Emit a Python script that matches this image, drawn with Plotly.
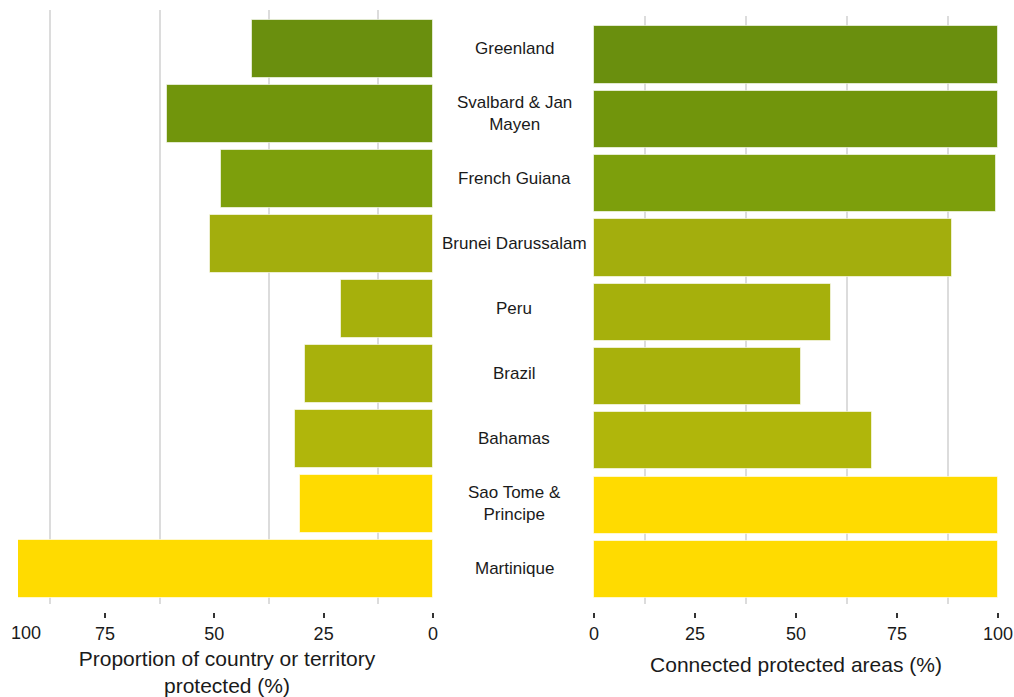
import plotly.graph_objects as go

countries = ["Greenland", "Svalbard & Jan Mayen", "French Guiana", "Brunei Darussalam",
             "Peru", "Brazil", "Bahamas", "Sao Tome & Principe", "Martinique"]
country_labels = ["Greenland", "Svalbard & Jan<br>Mayen", "French Guiana", "Brunei Darussalam",
                  "Peru", "Brazil", "Bahamas", "Sao Tome &<br>Principe", "Martinique"]
protected_pct = [41.4, 60.8, 48.5, 51.0, 21.0, 29.3, 31.5, 30.4, 100.0]
connected_pct = [100.0, 100.0, 99.5, 88.6, 58.7, 51.2, 68.8, 100.0, 100.0]
bar_colours = ["#6a8f0e", "#71950c", "#7d9f0c", "#a3ae0d", "#a6b00c",
               "#a8b10c", "#b0b60b", "#ffdb00", "#ffdb00"]
tick_values = [0, 25, 50, 75, 100]
tick_labels = ["0", "25", "50", "75", "100"]
minor_grid_values = [12.5, 37.5, 62.5, 87.5]

W, H = 1014, 697
FONT = "Liberation Sans, Arial, Helvetica, sans-serif"
TXT = "#1a1a1a"

def px(x):
    return x / W

def py(y):
    return 1 - y / H

fig = go.Figure()
fig.add_trace(go.Bar(
    x=protected_pct, y=countries, orientation="h", width=0.89,
    marker=dict(color=bar_colours, line=dict(color="rgba(255,255,255,0.6)", width=1)),
    xaxis="x", yaxis="y", showlegend=False, hoverinfo="x+y"))
fig.add_trace(go.Bar(
    x=connected_pct, y=countries, orientation="h", width=0.89,
    marker=dict(color=bar_colours, line=dict(color="rgba(255,255,255,0.6)", width=1)),
    xaxis="x2", yaxis="y2", showlegend=False, hoverinfo="x+y"))

common_x = dict(
    anchor="free", position=py(612), automargin=False,
    tickmode="array", tickvals=tick_values, ticktext=tick_labels,
    ticks="outside", ticklen=5, tickwidth=2, tickcolor="#333333",
    showgrid=False, zeroline=False, showline=False,
    minor=dict(tickmode="array", tickvals=minor_grid_values, showgrid=True,
               gridcolor="#dcdcdc", gridwidth=1.6, ticks=""),
    tickfont=dict(size=18, color=TXT, family=FONT),
    title_font=dict(size=21, color=TXT, family=FONT),
    title_standoff=14,
)

fig.update_layout(
    width=W, height=H, autosize=False,
    margin=dict(l=0, r=0, t=0, b=0, autoexpand=False),
    paper_bgcolor="white", plot_bgcolor="white",
    bargap=0,
    xaxis=dict(common_x, domain=[px(18), px(436)], range=[94.88, -0.69],
               title_text="Proportion of country or territory<br>protected (%)"),
    yaxis=dict(domain=[py(604), py(10)], type="category", categoryorder="array",
               categoryarray=countries, range=[8.54, -0.6], visible=False,
               automargin=False),
    xaxis2=dict(common_x, domain=[px(590), px(1002)], range=[-0.99, 100.99],
                title_text="Connected protected areas (%)"),
    yaxis2=dict(domain=[py(604), py(16)], type="category", categoryorder="array",
                categoryarray=countries, range=[8.537, -0.607], visible=False,
                anchor="x2", automargin=False),
)

annotations = []
for c, lab in zip(countries, country_labels):
    annotations.append(dict(xref="paper", yref="y", x=px(514), y=c, text=lab,
                            showarrow=False, xanchor="center", yanchor="middle",
                            font=dict(size=17, color=TXT, family=FONT)))
# left-axis "100" label sits beyond the clipped panel edge
annotations.append(dict(xref="paper", yref="paper", x=px(26), y=py(633), text=tick_labels[-1],
                        showarrow=False, xanchor="center", yanchor="middle",
                        font=dict(size=18, color=TXT, family=FONT)))
fig.update_layout(annotations=annotations)

fig.write_html("out.html", config={"displayModeBar": False},
               post_script="document.body.style.margin='0';document.body.style.overflow='hidden';")
